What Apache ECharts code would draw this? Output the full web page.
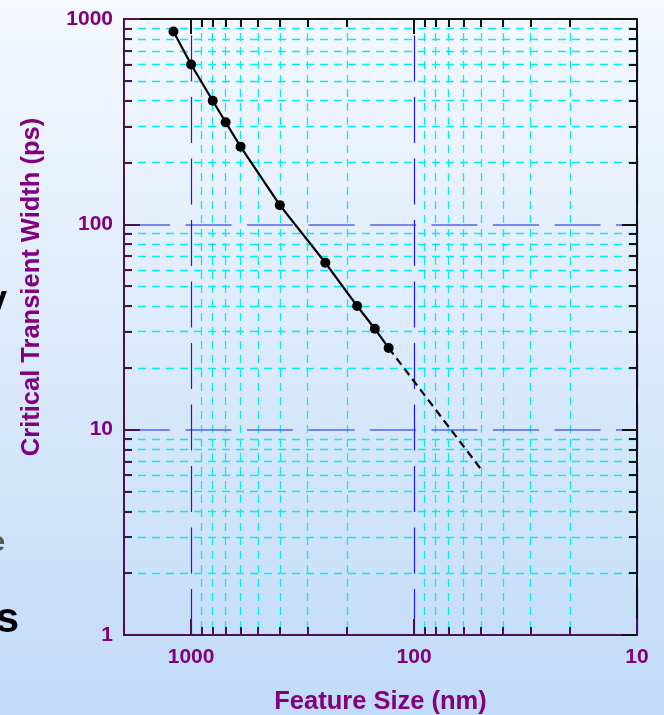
<!DOCTYPE html>
<html><head><meta charset="utf-8">
<script src="https://cdn.jsdelivr.net/npm/echarts@6/dist/echarts.min.js"></script>
<style>html,body{margin:0;padding:0;}#c{width:664px;height:715px;}</style>
</head><body><div id="c"></div>
<script>
// Measured data (feature size in nm, critical transient width in ps)
const featureSize = [1200, 1000, 800, 700, 600, 400, 250, 180, 150, 130];
const transientWidth = [870, 600, 400, 314, 239, 124, 65, 40, 31, 25];
// Dashed projection
const projSize = [130, 50];
const projWidth = [25, 6.4];
// Ticks
const xMajorTicks = [1000, 100, 10];
const xMinorTicks = [900, 800, 700, 600, 500, 400, 300, 200, 90, 80, 70, 60, 50, 40, 30, 20];
const yMajorTicks = [1, 10, 100, 1000];
const yMinorTicks = [2, 3, 4, 5, 6, 7, 8, 9, 20, 30, 40, 50, 60, 70, 80, 90, 200, 300, 400, 500, 600, 700, 800, 900];
const xTickLabels = ['1000', '100', '10'];
const yTickLabels = ['1', '10', '100', '1000'];

const PURPLE = '#800080';
const AXIS_PURPLE = '#4a1050';
const FONT = '"Liberation Sans", Arial, Helvetica, sans-serif';

function labelFor(ticks, labels) {
  return v => { const i = ticks.findIndex(t => Math.abs(t - v) / t < 1e-6); return i >= 0 ? labels[i] : ''; };
}

const baseX = { type: 'log', min: 10, max: 2000, inverse: true, gridIndex: 0 };
const baseY = { type: 'log', min: 1, max: 1000, gridIndex: 0 };

const chart = echarts.init(document.getElementById('c'), null, { renderer: 'canvas' });
chart.setOption({
  animation: false,
  backgroundColor: { type: 'linear', x: 0, y: 0, x2: 0, y2: 1,
    colorStops: [{ offset: 0, color: '#f5f8fe' }, { offset: 1, color: '#c1dbf8' }] },
  grid: { left: 124, top: 19, right: 27, bottom: 80, containLabel: false, outerBoundsMode: 'none' },
  xAxis: [
    Object.assign({}, baseX, {
      position: 'bottom', z: 1,
      axisLine: { show: true, lineStyle: { color: AXIS_PURPLE, width: 2 } },
      axisTick: { show: true, inside: true, length: 16, customValues: xMajorTicks, lineStyle: { color: AXIS_PURPLE, width: 2 } },
      axisLabel: { show: true, customValues: xMajorTicks, formatter: labelFor(xMajorTicks, xTickLabels), margin: 12,
        color: PURPLE, fontWeight: 'bold', fontSize: 21, fontFamily: FONT },
      splitLine: { show: true, lineStyle: { color: '#1a1aee', width: 1.2, type: [46, 15.5], dashOffset: 45 } },
      name: 'Feature Size (nm)', nameLocation: 'middle', nameGap: 54,
      nameTextStyle: { color: PURPLE, fontWeight: 'bold', fontSize: 25.5, fontFamily: FONT }
    }),
    Object.assign({}, baseX, {
      position: 'bottom', z: 0,
      axisLine: { show: false },
      axisTick: { show: true, inside: true, length: 8, customValues: xMinorTicks, lineStyle: { color: AXIS_PURPLE, width: 2 } },
      axisLabel: { show: false },
      splitLine: { show: true, lineStyle: { color: '#00f0f0', width: 1.3, type: [8, 6] } }
    }),
    Object.assign({}, baseX, {
      position: 'top', z: 1,
      axisLine: { show: true, lineStyle: { color: '#111', width: 2 } },
      axisTick: { show: true, inside: true, length: 15, customValues: xMajorTicks, lineStyle: { color: '#111', width: 2 } },
      axisLabel: { show: false }, splitLine: { show: false }
    }),
    Object.assign({}, baseX, {
      position: 'top', z: 1,
      axisLine: { show: false },
      axisTick: { show: true, inside: true, length: 8, customValues: xMinorTicks, lineStyle: { color: '#111', width: 2 } },
      axisLabel: { show: false }, splitLine: { show: false }
    })
  ],
  yAxis: [
    Object.assign({}, baseY, {
      position: 'left', z: 1,
      axisLine: { show: true, lineStyle: { color: AXIS_PURPLE, width: 2 } },
      axisTick: { show: true, inside: true, length: 16, customValues: yMajorTicks, lineStyle: { color: AXIS_PURPLE, width: 2 } },
      axisLabel: { show: true, customValues: yMajorTicks, formatter: labelFor(yMajorTicks, yTickLabels), margin: 11,
        color: PURPLE, fontWeight: 'bold', fontSize: 21, fontFamily: FONT },
      splitLine: { show: true, lineStyle: { color: '#5566ee', width: 1.5, type: [46, 15.5] } }
    }),
    Object.assign({}, baseY, {
      position: 'left', z: 0,
      axisLine: { show: false },
      axisTick: { show: true, inside: true, length: 8, customValues: yMinorTicks, lineStyle: { color: AXIS_PURPLE, width: 2 } },
      axisLabel: { show: false },
      splitLine: { show: true, lineStyle: { color: '#00f0f0', width: 1.3, type: [8, 6] } }
    }),
    Object.assign({}, baseY, {
      position: 'right', z: 1,
      axisLine: { show: true, lineStyle: { color: '#111', width: 2 } },
      axisTick: { show: true, inside: true, length: 15, customValues: yMajorTicks, lineStyle: { color: '#111', width: 2 } },
      axisLabel: { show: false }, splitLine: { show: false }
    }),
    Object.assign({}, baseY, {
      position: 'right', z: 1,
      axisLine: { show: false },
      axisTick: { show: true, inside: true, length: 8, customValues: yMinorTicks, lineStyle: { color: '#111', width: 2 } },
      axisLabel: { show: false }, splitLine: { show: false }
    })
  ],
  graphic: [
    { type: 'text', x: 32, y: 287, rotation: Math.PI / 2, z: 10,
      style: { text: 'Critical Transient Width (ps)', fill: PURPLE, font: 'bold 25.5px ' + FONT, align: 'center', verticalAlign: 'middle' } },
    { type: 'text', x: 7, y: 301, z: 10,
      style: { text: 'y', fill: '#000', font: 'bold 36px ' + FONT, align: 'right', verticalAlign: 'middle' } },
    { type: 'text', x: 5, y: 543, z: 10,
      style: { text: 'e', fill: '#555', font: 'bold 28px ' + FONT, align: 'right', verticalAlign: 'middle' } },
    { type: 'text', x: 19, y: 620, z: 10,
      style: { text: 's', fill: '#000', font: 'bold 42px ' + FONT, align: 'right', verticalAlign: 'middle' } }
  ],
  series: [
    { type: 'line', xAxisIndex: 0, yAxisIndex: 0, z: 5,
      data: featureSize.map((s, i) => [s, transientWidth[i]]),
      symbol: 'circle', symbolSize: 10, itemStyle: { color: '#000' },
      lineStyle: { color: '#000', width: 2.2 } },
    { type: 'line', xAxisIndex: 0, yAxisIndex: 0, z: 4,
      data: projSize.map((s, i) => [s, projWidth[i]]),
      symbol: 'none', lineStyle: { color: '#000', width: 2.2, type: [8, 5] } }
  ]
});
</script></body></html>
